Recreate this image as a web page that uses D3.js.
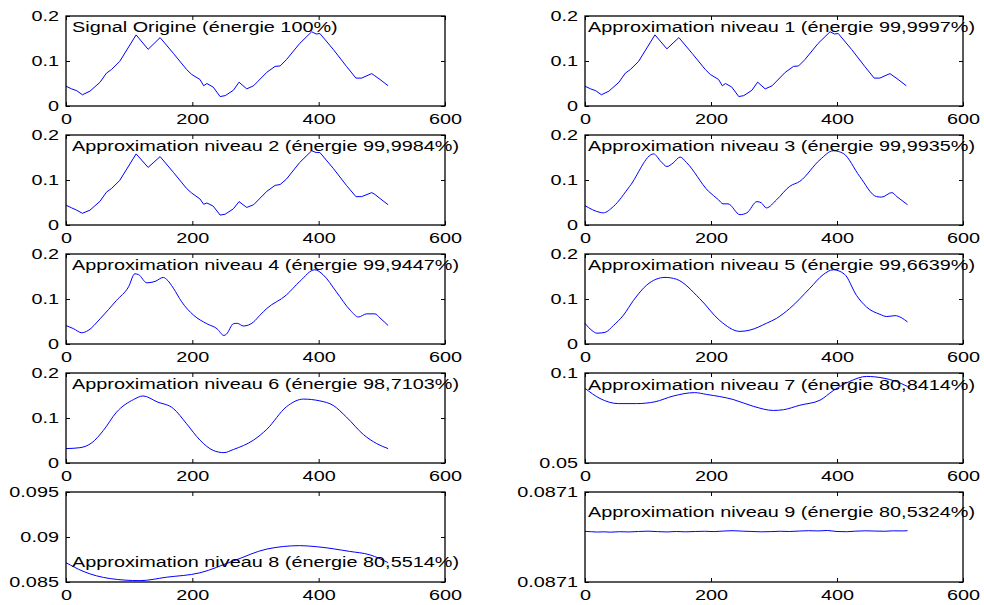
<!DOCTYPE html>
<html>
<head>
<meta charset="utf-8">
<script src="https://cdn.jsdelivr.net/npm/d3@7"></script>
<style>
  body { margin: 0; background: #fff; }
  text { font-family: "Liberation Sans", Arial, sans-serif; font-size: 15.5px; fill: #000; }
</style>
</head>
<body>
<svg id="chart" width="984" height="605"></svg>
<script>
// titres des sous-graphes
var titres = [
  "Signal Origine (énergie 100%)",
  "Approximation niveau 1 (énergie 99,9997%)",
  "Approximation niveau 2 (énergie 99,9984%)",
  "Approximation niveau 3 (énergie 99,9935%)",
  "Approximation niveau 4 (énergie 99,9447%)",
  "Approximation niveau 5 (énergie 99,6639%)",
  "Approximation niveau 6 (énergie 98,7103%)",
  "Approximation niveau 7 (énergie 80,8414%)",
  "Approximation niveau 8 (énergie 80,5514%)",
  "Approximation niveau 9 (énergie 80,5324%)"
];

// [indice, valeur]
var niveau0 = [[0,0.044],[9,0.038],[17,0.034],[26,0.025],[38,0.033],[54,0.053],[64,0.073],[72,0.081],[85,0.099],
  [111,0.158],[130,0.126],[149,0.152],[170,0.117],[191,0.081],[199,0.070],[212,0.059],[218,0.045],[223,0.050],
  [233,0.042],[244,0.021],[252,0.023],[265,0.035],[274,0.053],[286,0.038],[297,0.045],[318,0.075],[331,0.088],
  [339,0.089],[349,0.103],[370,0.139],[389,0.165],[396,0.160],[402,0.161],[423,0.126],[444,0.088],[459,0.062],
  [468,0.062],[484,0.072],[489,0.067],[497,0.059],[510,0.045]];
var niveau1 = [[0,0.044],[9,0.038],[17,0.034],[26,0.025],[38,0.033],[54,0.053],[64,0.073],[72,0.081],[85,0.099],
  [111,0.158],[130,0.127],[149,0.152],[170,0.117],[191,0.081],[199,0.070],[212,0.059],[218,0.045],[223,0.050],
  [233,0.042],[244,0.021],[252,0.023],[265,0.035],[274,0.053],[286,0.038],[297,0.045],[318,0.075],[331,0.088],
  [339,0.089],[349,0.103],[370,0.139],[389,0.165],[396,0.160],[402,0.161],[423,0.126],[444,0.088],[459,0.062],
  [468,0.062],[484,0.072],[489,0.067],[497,0.059],[510,0.045]];
var niveau2 = [[0,0.044],[9,0.038],[17,0.033],[26,0.026],[38,0.033],[54,0.053],[64,0.073],[72,0.081],[85,0.099],
  [111,0.158],[130,0.128],[149,0.152],[170,0.117],[191,0.081],[199,0.071],[212,0.058],[218,0.046],[223,0.049],
  [233,0.042],[244,0.022],[252,0.024],[265,0.036],[274,0.052],[286,0.039],[297,0.045],[318,0.075],[331,0.088],
  [339,0.090],[349,0.102],[370,0.139],[389,0.165],[396,0.161],[402,0.161],[423,0.126],[444,0.088],[459,0.063],
  [468,0.063],[484,0.072],[489,0.068],[497,0.059],[510,0.045]];
var niveau3 = [[0,0.043],[24,0.028],[29,0.027],[45,0.041],[71,0.086],[109,0.158],[120,0.142],[130,0.130],
  [140,0.138],[151,0.151],[161,0.139],[196,0.075],[212,0.056],[219,0.047],[227,0.047],[246,0.023],[257,0.027],
  [273,0.052],[280,0.049],[288,0.038],[304,0.056],[325,0.086],[341,0.097],[373,0.145],[394,0.165],[410,0.159],
  [436,0.108],[463,0.063],[471,0.062],[487,0.072],[495,0.063],[512,0.045]];
var niveau4 = [[0,0.041],[12,0.034],[25,0.025],[35,0.030],[54,0.056],[80,0.097],[99,0.127],[109,0.156],[115,0.154],
  [128,0.136],[141,0.139],[154,0.148],[159,0.144],[170,0.124],[183,0.094],[202,0.064],[223,0.045],[239,0.034],
  [250,0.019],[254,0.022],[265,0.045],[271,0.046],[281,0.040],[297,0.049],[307,0.064],[318,0.079],[349,0.109],
  [370,0.139],[394,0.165],[407,0.154],[428,0.116],[450,0.075],[463,0.060],[476,0.067],[489,0.067],[497,0.058],
  [510,0.041]];
var niveau5 = [[0,0.046],[11,0.030],[19,0.024],[32,0.026],[45,0.041],[61,0.064],[77,0.097],[98,0.131],[127,0.148],
  [145,0.144],[182,0.101],[214,0.052],[246,0.028],[262,0.031],[288,0.046],[304,0.057],[325,0.079],[357,0.124],
  [378,0.154],[394,0.165],[412,0.155],[431,0.108],[447,0.082],[468,0.066],[479,0.061],[492,0.063],[512,0.049]];
var niveau6 = [[0,0.032],[22,0.034],[41,0.045],[59,0.072],[80,0.113],[107,0.141],[122,0.149],[144,0.136],
  [170,0.121],[191,0.087],[212,0.051],[233,0.028],[250,0.023],[265,0.030],[297,0.051],[318,0.075],[349,0.125],
  [376,0.142],[402,0.138],[423,0.128],[444,0.102],[471,0.063],[492,0.043],[510,0.032]];
var niveau7 = [[0,0.0915],[24,0.0858],[53,0.0830],[82,0.0830],[111,0.0840],[140,0.0872],[174,0.0891],[193,0.0881],
  [235,0.0853],[267,0.0815],[299,0.0792],[315,0.0796],[341,0.0821],[373,0.0849],[394,0.0902],[420,0.0953],
  [447,0.0981],[473,0.0972],[494,0.0953],[512,0.0925]];
var niveau8 = [[0,0.08715],[27,0.08619],[70,0.08538],[117,0.08515],[159,0.08553],[212,0.08602],[265,0.08734],
  [318,0.08866],[370,0.08904],[397,0.08892],[449,0.08840],[481,0.08802],[510,0.08715]];
var niveau9 = [[0,0.0871005],[10,0.08710047],[20,0.08710044],[30,0.08710046],[40,0.08710043],[55,0.08710047],
  [70,0.08710045],[85,0.08710049],[100,0.08710052],[115,0.08710048],[130,0.08710045],[145,0.08710049],
  [160,0.08710046],[175,0.08710049],[190,0.08710051],[205,0.08710048],[220,0.08710053],[235,0.08710056],
  [250,0.08710052],[265,0.08710049],[280,0.08710046],[295,0.08710048],[310,0.08710051],[325,0.08710049],
  [340,0.08710053],[355,0.08710056],[370,0.08710054],[385,0.08710058],[400,0.08710049],[415,0.08710047],
  [430,0.08710052],[445,0.08710055],[460,0.08710053],[475,0.08710051],[490,0.08710055],[505,0.08710054],
  [512,0.08710056]];

var niveaux = [niveau0, niveau1, niveau2, niveau3, niveau4, niveau5, niveau6, niveau7, niveau8, niveau9];

// axes
var xDomaine = [0, 600];
var xTicks = [0, 200, 400, 600];
var xTickLabels = ["0", "200", "400", "600"];
var yDomaines = [[0,0.2],[0,0.2],[0,0.2],[0,0.2],[0,0.2],[0,0.2],[0,0.2],[0.05,0.1],[0.085,0.095],[0.087096,0.087104]];
var yTicks = [[0,0.1,0.2],[0,0.1,0.2],[0,0.1,0.2],[0,0.1,0.2],[0,0.1,0.2],[0,0.1,0.2],[0,0.1,0.2],
  [0.05,0.1],[0.085,0.09,0.095],[0.087096,0.087104]];
var yTickLabels = [["0","0.1","0.2"],["0","0.1","0.2"],["0","0.1","0.2"],["0","0.1","0.2"],["0","0.1","0.2"],
  ["0","0.1","0.2"],["0","0.1","0.2"],["0.05","0.1"],["0.085","0.09","0.095"],["0.0871","0.0871"]];
var lisse = [false, false, false, true, true, true, true, true, true, false];

// mise en page
var colX = [66, 585];
var plotW = [379, 378];
var rowY0 = 16, rowStep = 119, plotH = 90;
var titreDx = [6, 3];
var titreDy = [16, 16, 16, 16, 16, 16, 16, 17, 75, 25];
var etire = 1.28; // le texte de l'image est etire horizontalement

var svg = d3.select("#chart");
svg.append("rect").attr("width", 984).attr("height", 605).attr("fill", "#fff");

niveaux.forEach(function(data, i) {
  var col = i % 2, row = Math.floor(i / 2);
  var left = colX[col], top = rowY0 + row * rowStep, w = plotW[col];

  var g = svg.append("g").attr("transform", "translate(" + left + "," + top + ")");

  var x = d3.scaleLinear().domain(xDomaine).range([0, w]);
  var y = d3.scaleLinear().domain(yDomaines[i]).range([plotH, 0]);

  var ticksY = yTicks[i], labelsY = yTickLabels[i];

  // axe bas avec libelles
  var gx = g.append("g").attr("transform", "translate(0," + plotH + ")")
    .call(d3.axisBottom(x).tickValues(xTicks).tickSizeInner(-4).tickSizeOuter(0).tickPadding(7)
      .tickFormat(function(d, k) { return xTickLabels[k]; }));
  // axe gauche avec libelles
  var gy = g.append("g")
    .call(d3.axisLeft(y).tickValues(ticksY).tickSizeInner(-4).tickSizeOuter(0).tickPadding(5.5)
      .tickFormat(function(d, k) { return labelsY[k]; }));
  // ticks haut et droite
  g.append("g").call(d3.axisTop(x).tickValues(xTicks).tickSizeInner(-4).tickSizeOuter(0).tickFormat(""));
  g.append("g").attr("transform", "translate(" + w + ",0)")
    .call(d3.axisRight(y).tickValues(ticksY).tickSizeInner(-4).tickSizeOuter(0).tickFormat(""));

  g.selectAll(".domain").remove();
  g.selectAll(".tick line").attr("stroke", "#000").attr("stroke-width", 1);
  g.selectAll(".tick text")
    .attr("font-family", null).attr("font-size", null)
    .attr("transform", "scale(" + etire + ",1)");
  gx.selectAll(".tick text").attr("dy", "0.71em");

  // courbe
  var line = d3.line()
    .x(function(d) { return x(d[0]); })
    .y(function(d) { return y(d[1]); })
    .curve(lisse[i] ? d3.curveMonotoneX : d3.curveLinear);

  g.append("path")
    .datum(data)
    .attr("d", line)
    .attr("fill", "none")
    .attr("stroke", "#0000ff")
    .attr("stroke-width", 1);

  // cadre
  g.append("rect")
    .attr("width", w).attr("height", plotH)
    .attr("fill", "none").attr("stroke", "#000").attr("stroke-width", 1.3);

  // titre
  g.append("text")
    .attr("transform", "translate(" + titreDx[col] + "," + titreDy[i] + ") scale(" + etire + ",1)")
    .text(titres[i]);
});
</script>
</body>
</html>
